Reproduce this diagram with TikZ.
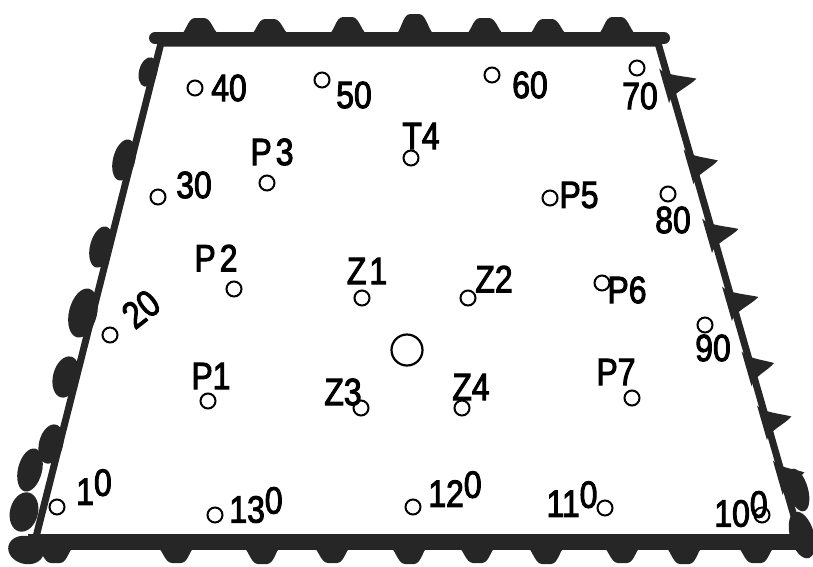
\documentclass[tikz,border=0pt]{standalone}
\usepackage{fontspec}
\setmainfont{Liberation Sans}
\newfontfamily\labfont[FakeStretch=0.84,FakeBold=2.5]{Liberation Sans}
\newcommand\rz{\raisebox{0.45ex}{0}}
\begin{document}
\begin{tikzpicture}[x=1pt,y=-1pt,
  pt/.style={circle,draw,line width=2pt,minimum size=15pt,inner sep=0pt},
  bigpt/.style={circle,draw,line width=2.2pt,minimum size=31pt,inner sep=0pt},
  lab/.style={inner sep=0pt,font=\labfont\fontsize{38}{38}\selectfont},
  edgeline/.style={line width=7pt,line join=round,draw=black!85},
  blob/.style={fill=black!85},
  mound/.pic={\fill[black!85] (-21,2) .. controls (-14,2) and (-13,{-#1}) .. (-5,{-#1})
      -- (4,{-#1}) .. controls (12,{-#1}) and (14,2) .. (21,2) -- cycle;},
  barb/.pic={\fill[black!85] (-18,3) .. controls (-10,0) and (-3,{-0.7*#1}) .. (2,{-#1})
      .. controls (7,{-0.75*#1}) and (10,0) .. (18,3) -- cycle;}]
\useasboundingbox (0,0) rectangle (813,566);
% frame
\coordinate (TL) at (161,43);
\coordinate (TR) at (658,43);
\coordinate (BR) at (800,537);
\coordinate (BL) at (36,537);
\coordinate (TBL) at (155,38);
\coordinate (TBR) at (664,38);
\coordinate (BBL) at (28,542);
\coordinate (BBR) at (810,542);
\draw[edgeline] (BL) -- (TL) -- (TR) -- (BR);
\draw[line width=12pt,draw=black!85,line cap=round] (TBL) -- (TBR);
\draw[line width=16pt,draw=black!85] (BBL) -- (BBR);
% top mounds
\foreach \x/\h in {200/15,270/14,348/16,415/19,485/15,548/14,617/16}
  \pic at (\x,33) {mound=\h};
% left blobs
\foreach \x/\y/\rx/\ry in {148/72/9/15,124/160/11/21,101/247/11/21,83/313/14/25,66/377/13/21,51/444/12/20,30/470/12/22,24/512/14/20,26/550/18/14}
  \fill[blob,rotate around={-14:(\x,\y)}] (\x,\y) ellipse [x radius=\rx, y radius=\ry];
% right barbs
\foreach \x/\y/\h in {667/85/30,691.4/166/27,710/235/29,729.9/303/29,749.4/368/25,764.9/422/27,780.7/477/24}
  \pic[rotate=-74] at (\x,\y) {barb=\h};
\foreach \x/\y/\rx/\ry in {798/490/10/22,802/535/12/24}
  \fill[blob,rotate around={16:(\x,\y)}] (\x,\y) ellipse [x radius=\rx, y radius=\ry];
% bottom mounds
\foreach \x/\h in {55/15,176/15,262/16,332/15,409/16,477/15,546/16,622/15,684/16,756/15}
  \pic[rotate=180] at (\x,548) {mound=\h};
% points and labels
\node[pt] (c40) at (195,88) {};   \node[lab] (l40) at (229,88) {40};
\node[pt] (c50) at (322,80) {};   \node[lab] (l50) at (354,95) {50};
\node[pt] (c60) at (492,75) {};   \node[lab] (l60) at (530,85) {60};
\node[pt] (c70) at (637,68) {};   \node[lab] (l70) at (640,96) {70};
\node[pt] (cT4) at (411,158) {};  \node[lab] (lT4) at (421,136) {T4};
\node[pt] (cP3) at (267,183) {};  \node[lab] (lP3) at (272,152) {P\hspace{4pt}3};
\node[pt] (c30) at (158,197) {};  \node[lab] (l30) at (194,185) {30};
\node[pt] (cP5) at (550,198) {};  \node[lab] (lP5) at (579,195) {P5};
\node[pt] (c80) at (668,194) {};  \node[lab] (l80) at (673,220) {80};
\node[pt] (cP2) at (234,289) {};  \node[lab] (lP2) at (216,258) {P\hspace{4pt}2};
\node[pt] (cZ1) at (362,298) {};  \node[lab] (lZ1) at (367,271) {Z\hspace{3pt}1};
\node[pt] (cZ2) at (468,298) {};  \node[lab] (lZ2) at (494,279) {Z2};
\node[pt] (cP6) at (602,283) {};  \node[lab] (lP6) at (627,290) {P6};
\node[pt] (c20) at (110,335) {};  \node[lab,rotate=38] (l20) at (141,309) {20};
\node[bigpt] (cen) at (407,350) {};
\node[pt] (c90) at (705,325) {};  \node[lab] (l90) at (713,348) {90};
\node[pt] (cP1) at (208,401) {};  \node[lab] (lP1) at (211,376) {P1};
\node[pt] (cZ3) at (361,408) {};  \node[lab] (lZ3) at (343,392) {Z3};
\node[pt] (cZ4) at (462,408) {};  \node[lab] (lZ4) at (471,387) {Z4};
\node[pt] (cP7) at (632,398) {};  \node[lab] (lP7) at (616,372) {P7};
\node[pt] (c10) at (57,507) {};   \node[lab] (l10) at (94,487) {1\rz};
\node[pt] (c130) at (215,515) {}; \node[lab] (l130) at (256,505) {13\rz};
\node[pt] (c120) at (413,507) {}; \node[lab] (l120) at (455,489) {12\rz};
\node[pt] (c110) at (605,508) {}; \node[lab] (l110) at (572,499) {11\rz};
\node[pt] (c100) at (762,515) {}; \node[lab] (l100) at (741,509) {10\rz};
\end{tikzpicture}
\end{document}
